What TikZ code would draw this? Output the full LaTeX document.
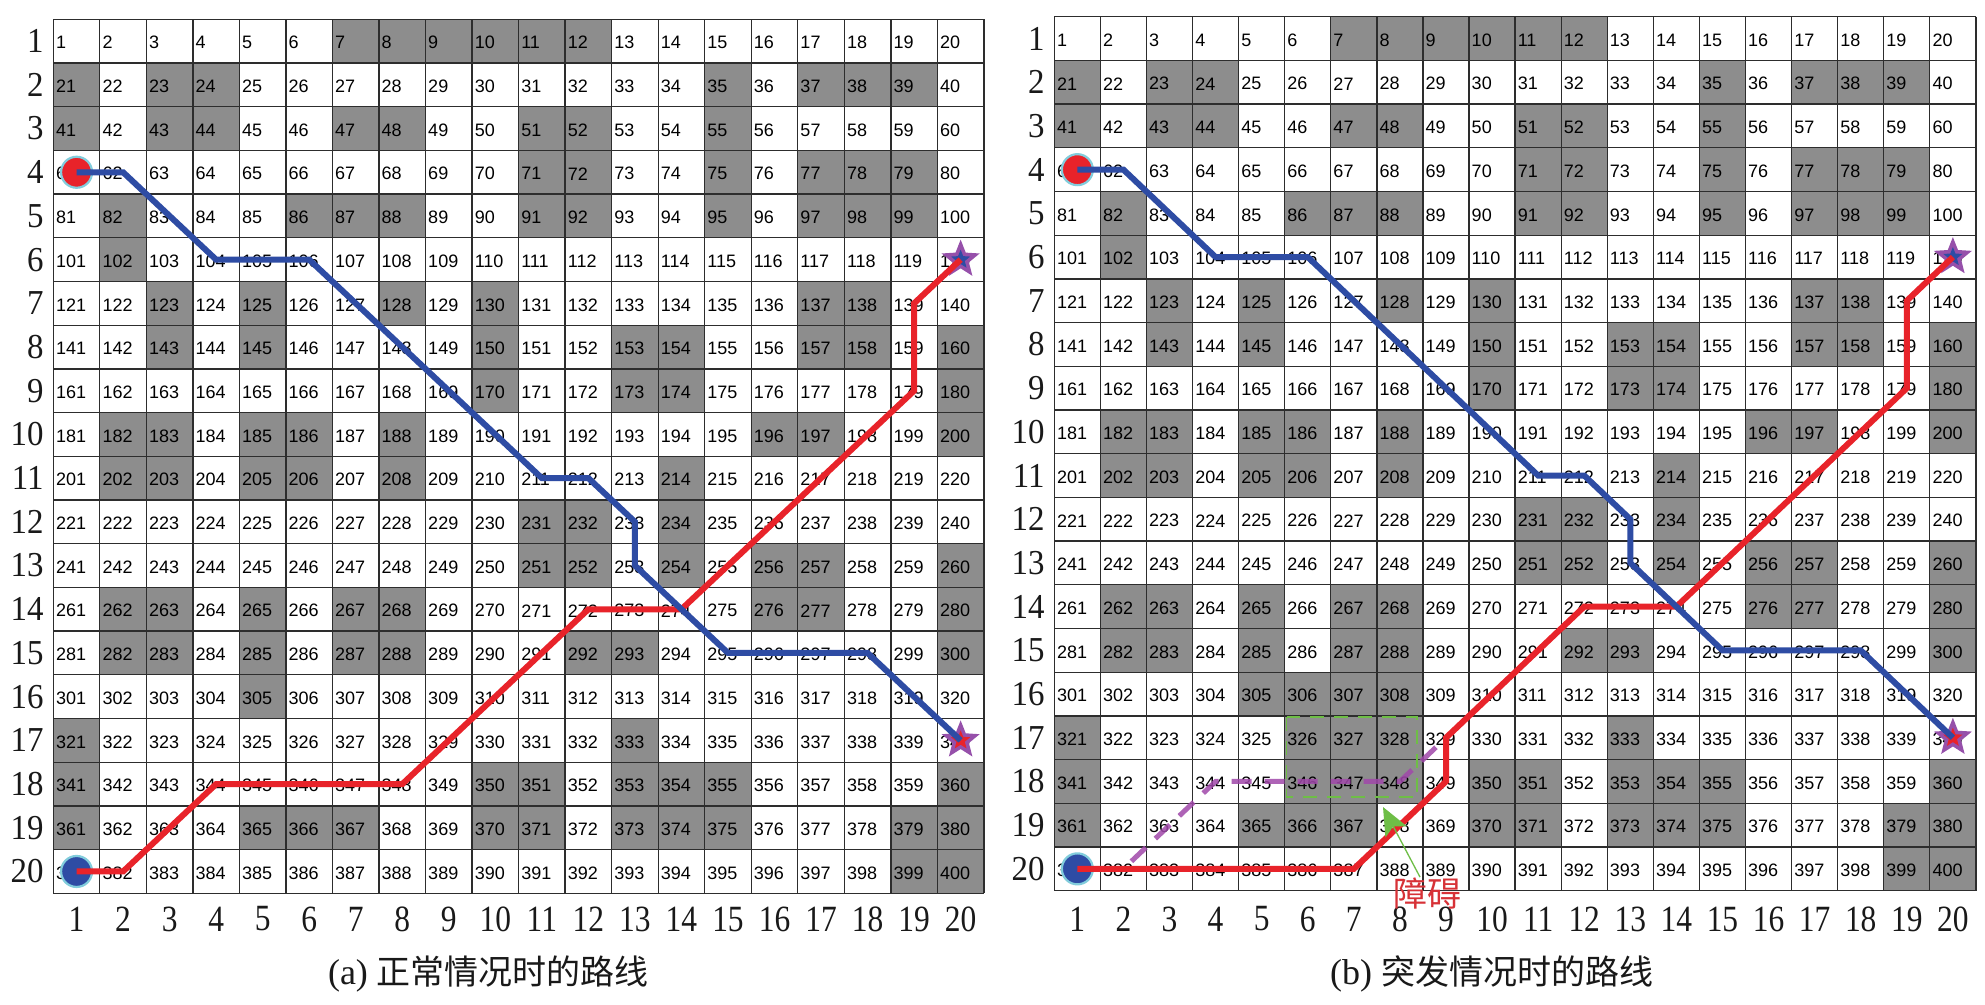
\documentclass[tikz,border=0pt]{standalone}
\usepackage{fontspec}
\setmainfont{Liberation Serif}
\newfontfamily\numfont{Liberation Sans}
\newfontfamily\cjk{Noto Sans CJK SC}
\usetikzlibrary{arrows.meta,shapes.geometric}
\definecolor{cellgray}{RGB}{141,141,141}
\definecolor{gridcol}{RGB}{45,45,45}
\definecolor{pathblue}{RGB}{46,76,164}
\definecolor{pathred}{RGB}{232,35,42}
\definecolor{purpdash}{RGB}{160,72,170}
\definecolor{starpurple}{RGB}{150,80,170}
\definecolor{ringcyan}{RGB}{130,205,220}
\definecolor{zgreen}{RGB}{110,190,70}
\definecolor{zred}{RGB}{215,50,55}
\def\graya{7,8,9,10,11,12,21,23,24,35,37,38,39,41,43,44,47,48,51,52,55,71,72,75,77,78,79,82,86,87,88,91,92,95,97,98,99,102,123,125,128,130,137,138,143,145,150,153,154,157,158,160,170,173,174,180,182,183,185,186,188,196,197,200,202,203,205,206,208,214,231,232,234,251,252,254,256,257,260,262,263,265,267,268,276,277,280,282,283,285,287,288,292,293,300,305,321,333,341,350,351,353,354,355,360,361,365,366,367,370,371,373,374,375,379,380,399,400}
\def\grayextra{306,307,308,326,327,328,346,347,348}
\newcommand\graycells[1]{%
  \foreach \g in #1{%
    \pgfmathtruncatemacro\rr{int((\g-1)/20)}%
    \pgfmathtruncatemacro\cc{\g-1-20*\rr}%
    \fill[cellgray] ({\gx+\cc*\cw},{\gy+\rr*\ch}) rectangle ++(\cw,\ch);
  }}
\newcommand\gridlines{%
  \foreach \i in {0,...,20}{%
    \draw[gridline] ({\gx+\i*\cw},\gy) -- ++(0,{20*\ch});
    \draw[gridline] (\gx,{\gy+\i*\ch}) -- ++({20*\cw},0);
  }}
\newcommand\cellnumbers[1]{%
  \foreach \rr in {1,...,20}{%
    \foreach \cc in {1,...,20}{%
      \pgfmathtruncatemacro\cn{(\rr-1)*20+\cc}%
      \coordinate (#1\cn) at ({\gx+(\cc-0.5)*\cw},{\gy+(\rr-0.5)*\ch});
      \node[num] (#1t\cn) at ({\gx+(\cc-1)*\cw+2.5},{\gy+(\rr-0.5)*\ch+1.5}) {\cn};
    }}}
\newcommand\axislabels[1]{%
  \foreach \i in {1,...,20}{%
    \node[rowlab] (#1r\i) at ({\gx-9.5},{\gy+(\i-0.5)*\ch}) {\scalebox{0.94}[1]{\i}};
    \node[collab] (#1c\i) at ({\gx+(\i-0.5)*\cw},919) {\scalebox{0.85}[1]{\i}};
  }}
\begin{document}
\begin{tikzpicture}[x=1pt,y=-1pt,
  gridline/.style={draw=gridcol,line width=1.3pt},
  num/.style={font=\numfont\fontsize{18}{18}\selectfont,inner sep=0pt,anchor=west,text=black},
  rowlab/.style={font=\fontsize{35}{35}\selectfont,inner sep=0pt,anchor=east,text=black!90},
  collab/.style={font=\fontsize{37}{37}\selectfont,inner sep=0pt,text=black!90},
  caption/.style={font=\fontsize{36}{36}\selectfont,inner sep=0pt,text=black!90},
  bluepath/.style={draw=pathblue,line width=6pt},
  redpath/.style={draw=pathred,line width=6pt},
  oldpath/.style={draw=purpdash,line width=5pt,opacity=0.85,dash pattern=on 20pt off 13pt,dash phase=22pt},
  startc/.style={circle,minimum size=31pt,inner sep=0pt,line width=2.2pt,draw=ringcyan},
  starout/.style={star,star points=5,star point ratio=2.3,minimum size=40pt,inner sep=0pt,fill=starpurple},
  starin/.style={star,star points=5,star point ratio=2.3,minimum size=20pt,inner sep=0pt},
  greenbox/.style={draw=zgreen,line width=1.6pt,dash pattern=on 14pt off 10pt}]
\fill[white] (0,0) rectangle (1985,1004);
\useasboundingbox (0,0) rectangle (1985,1004);

% ---------- grid (a) ----------
\def\gx{53.3}\def\gy{19.3}\def\cw{46.53}\def\ch{43.7}
\graycells{\graya}
\gridlines
\cellnumbers{a}
\axislabels{a}
\node[caption] (capa) at (488.5,974) {(a) {\cjk\fontsize{34}{34}\selectfont 正常情况时的路线}};

% ---------- grid (b) ----------
\def\gx{1054.3}\def\gy{16.7}\def\cw{46.08}\def\ch{43.7}
\graycells{\graya}
\graycells{\grayextra}
\gridlines
\cellnumbers{b}
\axislabels{b}
\node[caption] (capb) at (1491.5,974) {(b) {\cjk\fontsize{34}{34}\selectfont 突发情况时的路线}};

% obstacle box and old route
\draw[greenbox] (1286.5,717) rectangle (1417,797);
\draw[oldpath] (b382) -- (b344) -- (b348) -- (b329);

% ---------- markers (a) ----------
\node[startc,fill=pathred] (aS1) at (a61) {};
\node[startc,fill=pathblue] (aS2) at (a381) {};
\node[starout] (aE1) at (a120) {};
\node[starin,fill=pathblue] (aE1i) at (a120) {};
\node[starout] (aE2) at (a340) {};
\node[starin,fill=pathred] (aE2i) at (a340) {};
% ---------- markers (b) ----------
\node[startc,fill=pathred] (bS1) at (b61) {};
\node[startc,fill=pathblue] (bS2) at (b381) {};
\node[starout] (bE1) at (b120) {};
\node[starin,fill=pathblue] (bE1i) at (b120) {};
\node[starout] (bE2) at (b340) {};
\node[starin,fill=pathred] (bE2i) at (b340) {};

% ---------- routes ----------
\draw[redpath] (a381) -- (a382) -- (a344) -- (a348) -- (a272) -- (a274) -- (a179) -- (a139) -- (a120);
\draw[bluepath] (a61) -- (a62) -- (a104) -- (a106) -- (a211) -- (a212) -- (a233) -- (a253) -- (a295) -- (a298) -- (a340);
\draw[redpath] (b381) -- (b387) -- (b349) -- (b329) -- (b272) -- (b274) -- (b179) -- (b139) -- (b120);
\draw[bluepath] (b61) -- (b62) -- (b104) -- (b106) -- (b211) -- (b212) -- (b233) -- (b253) -- (b295) -- (b298) -- (b340);

% ---------- obstacle label ----------
\node[inner sep=0pt,text=zred,font=\cjk\fontsize{34}{34}\selectfont] (zlab) at (1427,893) {障碍};
\coordinate (ztip) at (1383,807);
\draw[draw=zgreen,line width=1.3pt,-{Stealth[length=28pt,width=24pt,inset=6pt,fill=zgreen]}] ([xshift=-7pt]zlab.north) -- (ztip);
\end{tikzpicture}
\end{document}
